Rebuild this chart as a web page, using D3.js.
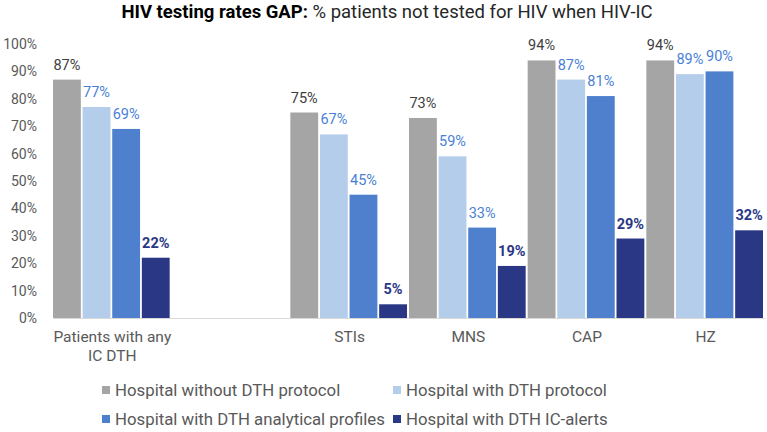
<!DOCTYPE html>
<html>
<head>
<meta charset="utf-8">
<script src="https://cdn.jsdelivr.net/npm/d3@7"></script>
<style>
  body { margin: 0; background: #fff; font-family: Roboto, "Open Sans", sans-serif; }
  svg text { font-family: Roboto, sans-serif; }
</style>
</head>
<body>
<svg id="chart"></svg>
<script>
// categories (blank slot between first group and STIs)
const categories = ['Patients with any|IC DTH', '', 'STIs', 'MNS', 'CAP', 'HZ'];
const seriesNames = [
  'Hospital without DTH protocol',
  'Hospital with DTH protocol',
  'Hospital with DTH analytical profiles',
  'Hospital with DTH IC-alerts'
];
const noProtocol = [87, null, 75, 73, 94, 94];
const withProtocol = [77, null, 67, 59, 87, 89];
const analyticalProfiles = [69, null, 45, 33, 81, 90];
const icAlerts = [22, null, 5, 19, 29, 32];
const yTicks = [0, 10, 20, 30, 40, 50, 60, 70, 80, 90, 100];

const colors = ['#a5a5a5', '#b4cdeb', '#4f80cd', '#2a3784'];
const labelColors = ['#404040', '#4a7fd6', '#4a7fd6', '#2a3784'];
const labelWeights = ['normal', 'normal', 'normal', 'bold'];

const W = 767, H = 432;
const margin = {top: 44, right: 2, bottom: 114, left: 53};
const width = W - margin.left - margin.right;
const height = H - margin.top - margin.bottom;

const svg = d3.select('#chart').attr('width', W).attr('height', H);

const allSeries = [noProtocol, withProtocol, analyticalProfiles, icAlerts];

const x0 = d3.scaleBand().domain(d3.range(categories.length)).range([0, width]).paddingInner(0).paddingOuter(0);
const x1 = d3.scaleBand().domain(d3.range(4)).range([0, x0.bandwidth() - 2]).paddingInner(0.06);
const y = d3.scaleLinear().domain([0, 100]).range([height, 0]);

const g = svg.append('g').attr('transform', `translate(${margin.left},${margin.top})`);

// y axis labels
const yAxis = d3.axisLeft(y).tickValues(yTicks).tickFormat(d => d + '%').tickSize(0).tickPadding(16);
g.append('g').call(yAxis)
  .call(a => a.select('.domain').remove())
  .selectAll('text')
  .style('font-size', '14px')
  .attr('fill', '#595959');

// bars
allSeries.forEach((vals, s) => {
  const data = vals.map((v, i) => ({i, v})).filter(d => d.v !== null);
  g.append('g').selectAll('rect')
    .data(data)
    .join('rect')
    .attr('x', d => x0(d.i) + x1(s))
    .attr('y', d => y(d.v))
    .attr('width', x1.bandwidth())
    .attr('height', d => height - y(d.v))
    .attr('fill', colors[s]);

  g.append('g').selectAll('text')
    .data(data)
    .join('text')
    .attr('x', d => x0(d.i) + x1(s) + x1.bandwidth() / 2)
    .attr('y', d => y(d.v) - 10)
    .attr('text-anchor', 'middle')
    .style('font-size', '14.5px')
    .style('font-weight', labelWeights[s])
    .attr('fill', labelColors[s])
    .text(d => d.v + '%');
});

// x axis
const xAxis = d3.axisBottom(x0).tickSize(0).tickPadding(8).tickFormat(() => '');
const xg = g.append('g').attr('transform', `translate(0,${height})`).call(xAxis);
xg.select('.domain').attr('stroke', '#d9d9d9').attr('stroke-width', 1.2);
xg.selectAll('.tick').each(function(d) {
  const lines = categories[d].split('|');
  const t = d3.select(this).append('text')
    .attr('text-anchor', 'middle')
    .attr('fill', '#595959')
    .style('font-size', '15.5px');
  lines.forEach((ln, k) => {
    t.append('tspan').attr('x', 0).attr('y', 24 + k * 19).text(ln);
  });
});

// title
const title = svg.append('text')
  .attr('x', 387).attr('y', 18)
  .attr('text-anchor', 'middle')
  .style('font-size', '18.5px')
  .attr('fill', '#000');
title.append('tspan').style('font-weight', 'bold').text('HIV testing rates GAP:');
title.append('tspan').attr('fill', '#262626').text(' % patients not tested for HIV when HIV-IC');

// legend
const legendPos = [[102, 390], [393, 390], [102, 419], [393, 419]];
const lg = svg.append('g');
seriesNames.forEach((name, s) => {
  const [lx, ly] = legendPos[s];
  lg.append('rect').attr('x', lx).attr('y', ly - 4).attr('width', 8).attr('height', 8).attr('fill', colors[s]);
  lg.append('text').attr('x', lx + 13).attr('y', ly).attr('dy', '0.35em')
    .style('font-size', '16.8px').attr('fill', '#595959').text(name);
});
</script>
</body>
</html>
